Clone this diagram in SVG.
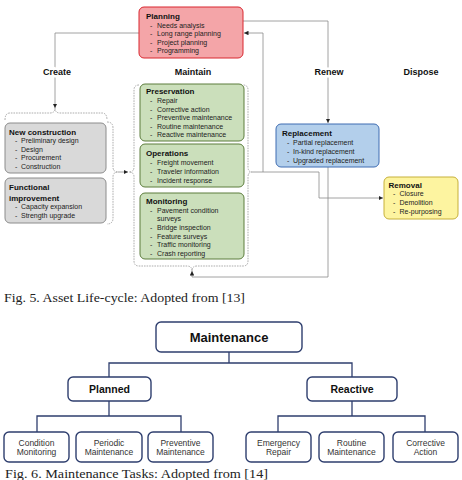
<svg xmlns="http://www.w3.org/2000/svg" width="462" height="480" viewBox="0 0 462 480">
<style>
text{font-family:"Liberation Sans",Arial,sans-serif;fill:#111}
.t{font-size:8px;font-weight:bold}
.i{font-size:7px;fill:#222}
.lab{font-size:9px;font-weight:bold;text-anchor:middle;stroke:#fff;stroke-width:5;paint-order:stroke}
.cap{font-family:"Liberation Serif","Times New Roman",serif;font-size:12.5px;fill:#222}
.con{fill:none;stroke:#8a8a8a;stroke-width:0.8}
.br{fill:none;stroke:#8a8a8a;stroke-width:0.7;stroke-dasharray:1.6,1}
.gray{fill:#d9d9d9;stroke:#8c8c8c;stroke-width:1}
.green{fill:#cbdfbb;stroke:#5c7d3c;stroke-width:1}
.red{fill:#f4a5a8;stroke:#d9262f;stroke-width:1}
.blue{fill:#b3cfeb;stroke:#3f6db2;stroke-width:1}
.yel{fill:#fdf4a0;stroke:#c6b03a;stroke-width:1}
.mb{fill:#fff;stroke:#2e3e6e;stroke-width:1.4}
.ml{fill:none;stroke:#2e3e6e;stroke-width:1.3}
.mt{font-size:8.5px;fill:#333;text-anchor:middle}
.mh{font-weight:bold;text-anchor:middle}
</style>
<defs>
<marker id="ah" viewBox="0 0 6 6" refX="6" refY="3" markerWidth="4.5" markerHeight="4.5" markerUnits="userSpaceOnUse" orient="auto">
<path d="M0,0 L6,3 L0,6 Z" fill="#222"/>
</marker>
</defs>

<!-- connectors -->
<g id="connectors">
<path class="con" d="M139,33 L55,33 L55,108" marker-end="url(#ah)"/>
<path class="con" d="M243,21 L328,21 L328,123" marker-end="url(#ah)"/>
<path class="con" d="M252,172 L319,172 L319,198 L383,198" marker-end="url(#ah)"/>
<path class="con" d="M263,172 L263,33 L244,33" marker-end="url(#ah)"/>
<path class="con" d="M328,167 L328,277 L192,277 L192,271" marker-end="url(#ah)"/>
<path class="con" d="M118,172 L128,172" marker-end="url(#ah)"/>
<!-- braces -->
<path class="br" d="M5,120 Q5,113 10,113 L50,113 Q55,113 55,108 Q55,113 60,113 L102,113 Q107,113 107,120"/>
<path class="br" d="M107,122 Q113,122 113,128 L113,167 Q113,172 118,172 Q113,172 113,177 L113,218 Q113,224 107,224"/>
<path class="br" d="M139,85 Q134,85 134,90 L134,167 Q134,172 129,172 Q134,172 134,177 L134,261 Q134,266 139,266 L187,266 Q192,266 192,271 Q192,266 197,266 L243,266 Q248,266 248,261 L248,177 Q248,172 252,172 Q248,172 248,167 L248,90 Q248,85 243,85"/>
<!-- fig 6 -->
<path class="ml" d="M229,352 L229,363 M109,377 L109,363 L352,363 L352,377"/>
<path class="ml" d="M109,401 L109,416 M37,432 L37,416 L181,416 L181,432"/>
<path class="ml" d="M352,401 L352,416 M278,432 L278,416 L425,416 L425,432"/>
</g>

<!-- stage labels -->
<text class="lab" x="57" y="75">Create</text>
<text class="lab" x="193" y="75">Maintain</text>
<text class="lab" x="329" y="75">Renew</text>
<text class="lab" x="421" y="75">Dispose</text>

<g id="planning">
<rect class="red" x="139" y="7" width="104" height="51" rx="5"/>
<text class="t" x="146" y="19">Planning</text>
<text class="i" x="150" y="27.5">-</text><text class="i" x="157" y="27.5">Needs analysis</text>
<text class="i" x="150" y="36">-</text><text class="i" x="157" y="36">Long range planning</text>
<text class="i" x="150" y="44.5">-</text><text class="i" x="157" y="44.5">Project planning</text>
<text class="i" x="150" y="53">-</text><text class="i" x="157" y="53">Programming</text>
</g>

<g id="new-construction">
<rect class="gray" x="5" y="123" width="101" height="50" rx="5"/>
<text class="t" x="9" y="134.5">New construction</text>
<text class="i" x="15" y="143">-</text><text class="i" x="21" y="143">Preliminary design</text>
<text class="i" x="15" y="151.5">-</text><text class="i" x="21" y="151.5">Design</text>
<text class="i" x="15" y="160">-</text><text class="i" x="21" y="160">Procurement</text>
<text class="i" x="15" y="168.5">-</text><text class="i" x="21" y="168.5">Construction</text>
</g>

<g id="functional-improvement">
<rect class="gray" x="5" y="178" width="101" height="45" rx="5"/>
<text class="t" x="9" y="190.3">Functional</text>
<text class="t" x="9" y="201.3">improvement</text>
<text class="i" x="15" y="209">-</text><text class="i" x="21" y="209">Capacity expansion</text>
<text class="i" x="15" y="217.5">-</text><text class="i" x="21" y="217.5">Strength upgrade</text>
</g>

<g id="preservation">
<rect class="green" x="140" y="84" width="104" height="57" rx="5"/>
<text class="t" x="146" y="94">Preservation</text>
<text class="i" x="150" y="103">-</text><text class="i" x="157" y="103">Repair</text>
<text class="i" x="150" y="111.5">-</text><text class="i" x="157" y="111.5">Corrective action</text>
<text class="i" x="150" y="120">-</text><text class="i" x="157" y="120">Preventive maintenance</text>
<text class="i" x="150" y="128.5">-</text><text class="i" x="157" y="128.5">Routine maintenance</text>
<text class="i" x="150" y="137">-</text><text class="i" x="157" y="137">Reactive maintenance</text>
</g>

<g id="operations">
<rect class="green" x="140" y="144" width="104" height="43" rx="5"/>
<text class="t" x="146" y="156">Operations</text>
<text class="i" x="150" y="164.5">-</text><text class="i" x="157" y="164.5">Freight movement</text>
<text class="i" x="150" y="173.5">-</text><text class="i" x="157" y="173.5">Traveler information</text>
<text class="i" x="150" y="182.5">-</text><text class="i" x="157" y="182.5">Incident response</text>
</g>

<g id="monitoring">
<rect class="green" x="140" y="193" width="104" height="66" rx="5"/>
<text class="t" x="146" y="204">Monitoring</text>
<text class="i" x="150" y="212.5">-</text><text class="i" x="157" y="212.5">Pavement condition</text>
<text class="i" x="157" y="221">surveys</text>
<text class="i" x="150" y="229.8">-</text><text class="i" x="157" y="229.8">Bridge inspection</text>
<text class="i" x="150" y="238.5">-</text><text class="i" x="157" y="238.5">Feature surveys</text>
<text class="i" x="150" y="247">-</text><text class="i" x="157" y="247">Traffic monitoring</text>
<text class="i" x="150" y="255.5">-</text><text class="i" x="157" y="255.5">Crash reporting</text>
</g>

<g id="replacement">
<rect class="blue" x="276" y="124" width="103" height="43" rx="5"/>
<text class="t" x="282" y="136.3">Replacement</text>
<text class="i" x="287" y="145">-</text><text class="i" x="293" y="145">Partial replacement</text>
<text class="i" x="287" y="153.8">-</text><text class="i" x="293" y="153.8">In-kind replacement</text>
<text class="i" x="287" y="162.5">-</text><text class="i" x="293" y="162.5">Upgraded replacement</text>
</g>

<g id="removal">
<rect class="yel" x="384" y="177" width="74" height="42" rx="5"/>
<text class="t" x="388.5" y="188">Removal</text>
<text class="i" x="393" y="196">-</text><text class="i" x="399.5" y="196">Closure</text>
<text class="i" x="393" y="204.8">-</text><text class="i" x="399.5" y="204.8">Demolition</text>
<text class="i" x="393" y="213.5">-</text><text class="i" x="399.5" y="213.5">Re-purposing</text>
</g>

<text class="cap" x="4" y="302" textLength="241" lengthAdjust="spacingAndGlyphs">Fig. 5. Asset Life-cycle: Adopted from [13]</text>

<g id="maintenance">
<rect class="mb" x="156" y="322" width="146" height="30" rx="5"/>
<text class="mh" x="229" y="341.5" font-size="13">Maintenance</text>
</g>
<g id="planned">
<rect class="mb" x="68" y="377" width="83" height="24" rx="5"/>
<text class="mh" x="109.5" y="392.5" font-size="10.5">Planned</text>
</g>
<g id="reactive">
<rect class="mb" x="307" y="377" width="90" height="24" rx="5"/>
<text class="mh" x="352" y="392.5" font-size="10.5">Reactive</text>
</g>
<g id="condition-monitoring">
<rect class="mb" x="4" y="432" width="65" height="30" rx="5"/>
<text class="mt" x="36.5" y="445.5">Condition</text><text class="mt" x="36.5" y="455">Monitoring</text>
</g>
<g id="periodic-maintenance">
<rect class="mb" x="76" y="432" width="66" height="30" rx="5"/>
<text class="mt" x="109" y="445.5">Periodic</text><text class="mt" x="109" y="455">Maintenance</text>
</g>
<g id="preventive-maintenance">
<rect class="mb" x="148" y="432" width="65" height="30" rx="5"/>
<text class="mt" x="180.5" y="445.5">Preventive</text><text class="mt" x="180.5" y="455">Maintenance</text>
</g>
<g id="emergency-repair">
<rect class="mb" x="246" y="432" width="65" height="30" rx="5"/>
<text class="mt" x="278.5" y="445.5">Emergency</text><text class="mt" x="278.5" y="455">Repair</text>
</g>
<g id="routine-maintenance">
<rect class="mb" x="319" y="432" width="65" height="30" rx="5"/>
<text class="mt" x="351.5" y="445.5">Routine</text><text class="mt" x="351.5" y="455">Maintenance</text>
</g>
<g id="corrective-action">
<rect class="mb" x="393" y="432" width="65" height="30" rx="5"/>
<text class="mt" x="425.5" y="445.5">Corrective</text><text class="mt" x="425.5" y="455">Action</text>
</g>

<text class="cap" x="5" y="477.5" textLength="263" lengthAdjust="spacingAndGlyphs">Fig. 6. Maintenance Tasks: Adopted from [14]</text>
</svg>
